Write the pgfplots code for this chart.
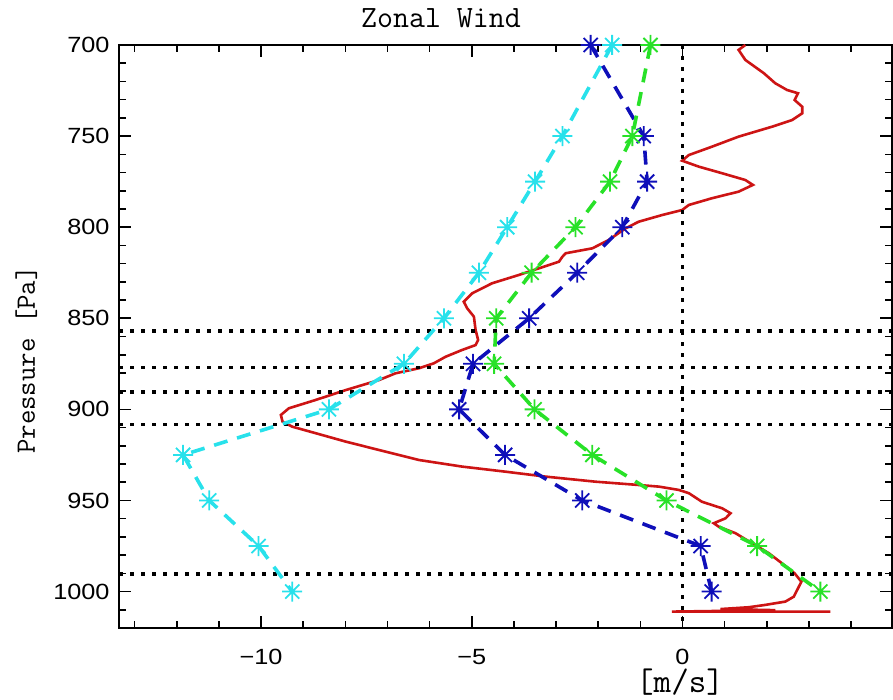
\documentclass[border=0pt]{standalone}
\usepackage{fontspec}
\setsansfont{Liberation Sans}[FakeStretch=1.15]
\usepackage{pgfplots}
\pgfplotsset{compat=1.18}
\definecolor{cCyan}{RGB}{40,225,235}
\definecolor{cBlue}{RGB}{15,15,185}
\definecolor{cGreen}{RGB}{40,225,40}
\definecolor{cRed}{RGB}{205,20,20}
\pgfdeclareplotmark{ast8}{%
  \pgfpathmoveto{\pgfqpoint{-\pgfplotmarksize}{0pt}}\pgfpathlineto{\pgfqpoint{\pgfplotmarksize}{0pt}}%
  \pgfpathmoveto{\pgfqpoint{0pt}{-\pgfplotmarksize}}\pgfpathlineto{\pgfqpoint{0pt}{\pgfplotmarksize}}%
  \pgfpathmoveto{\pgfqpoint{-0.707\pgfplotmarksize}{-0.707\pgfplotmarksize}}\pgfpathlineto{\pgfqpoint{0.707\pgfplotmarksize}{0.707\pgfplotmarksize}}%
  \pgfpathmoveto{\pgfqpoint{-0.707\pgfplotmarksize}{0.707\pgfplotmarksize}}\pgfpathlineto{\pgfqpoint{0.707\pgfplotmarksize}{-0.707\pgfplotmarksize}}%
  \pgfusepathqstroke}
\begin{document}
\begin{tikzpicture}
\begin{axis}[
  scale only axis, width=386.5pt, height=291.5pt,
  anchor=south west, at={(0,0)},
  xmin=-13.37, xmax=4.97, ymin=700, ymax=1020, y dir=reverse,
  xtick={-10,-5,0}, xticklabels={−10,−5,0},
  minor xtick={-13,...,4},
  ytick={700,750,...,1000},
  minor ytick={710,720,...,1010},
  tick align=inside, major tick length=6pt, minor tick length=3.5pt,
  every tick/.style={black, line width=0.8pt},
  axis line style={line width=1.2pt},
  ticklabel style={font=\fontsize{11}{13}\selectfont\sffamily},
  /pgf/number format/assume math mode=true,
  /pgf/number format/set thousands separator={},
  yticklabel style={xshift=-1.2pt},
  xticklabel style={yshift=-7pt},
  clip mode=individual,
  dotline/.style={black, line width=1.8pt, dash pattern=on 1.8pt off 3.7pt},
  series/.style={line width=1.8pt, dash pattern=on 7pt off 5pt, mark=ast8, mark size=5pt, mark options={solid, line width=0.9pt}},
]
\addplot[cRed, line width=1.3pt, no marks] coordinates {
(1.49,700) (1.33,702.7) (1.49,708.2) (1.93,715.5) (2.20,721) (2.48,724.7) (2.74,726.5) (2.66,730.2) (2.84,733.9) (2.84,737.5) (2.60,741.2) (2.13,744.8) (1.33,750.3) (0.70,755.8) (0.15,760.4) (-0.01,763.5) (0.39,766.8) (0.94,770.4) (1.49,774.1) (1.67,776.8) (1.33,780.5) (0.70,784.1) (0.15,787.8) (-0.01,790.6) (-0.48,793.3) (-1.04,797) (-1.35,800.6) (-1.75,807) (-2.14,811.6) (-2.77,814.3) (-2.85,816.2) (-2.93,818.9) (-3.41,822.6) (-3.88,826.2) (-4.52,830.8) (-4.99,836.3) (-5.19,840.9) (-5.11,844.5) (-4.95,849.1) (-4.91,856.4) (-4.85,861.9) (-4.91,864.7) (-5.23,867.4) (-5.62,871.1) (-5.90,874.7) (-6.25,877.4) (-6.81,880.2) (-7.20,883.9) (-7.99,889.4) (-8.70,894.8) (-9.34,899.4) (-9.53,903.1) (-9.49,906.7) (-9.26,909.5) (-8.70,913.1) (-7.99,917.7) (-7.20,922.3) (-6.25,927.8) (-5.23,931.4) (-4.20,934.2) (-3.25,936.9) (-2.06,939.7) (-1.04,941.5) (-0.56,942.4) (-0.09,944.2) (0.15,946) (0.46,950.7) (0.94,954.3) (1.14,957) (1.02,959.8) (0.74,962.5) (0.86,964.4) (1.26,968) (1.65,973.5) (2.05,979) (2.36,984.5) (2.66,990) (2.82,994.6) (2.76,997.3) (2.64,1002.8) (2.44,1005.5) (1.97,1007.3) (1.57,1008.6) (0.9,1009.6) (2.2,1010.2) (-0.25,1011.0) (3.51,1011.0)
};
\addplot[dotline] coordinates {(-13.37,857) (4.97,857)};
\addplot[dotline] coordinates {(-13.37,877) (4.97,877)};
\addplot[dotline] coordinates {(-13.37,890.3) (4.97,890.3)};
\addplot[dotline] coordinates {(-13.37,908.2) (4.97,908.2)};
\addplot[dotline] coordinates {(-13.37,990.3) (4.97,990.3)};
\addplot[dotline] coordinates {(0,700) (0,1020)};
\addplot[series, cCyan] coordinates {
(-1.67,700) (-2.85,750) (-3.50,775) (-4.16,800) (-4.83,825) (-5.66,850) (-6.61,875) (-8.39,900) (-11.85,925) (-11.23,950) (-10.06,975) (-9.26,1000)
};
\addplot[series, cBlue] coordinates {
(-2.18,700) (-0.92,750) (-0.84,775) (-1.43,800) (-2.50,825) (-3.64,850) (-4.97,875) (-5.30,900) (-4.21,925) (-2.38,950) (0.43,975) (0.69,1000)
};
\addplot[series, cGreen] coordinates {
(-0.76,700) (-1.19,750) (-1.72,775) (-2.54,800) (-3.58,825) (-4.42,850) (-4.47,875) (-3.51,900) (-2.14,925) (-0.38,950) (1.77,975) (3.27,1000)
};
\end{axis}
\node[anchor=base, font=\fontsize{15.5}{18}\selectfont\ttfamily] at (161pt,300pt) {Zonal Wind};
\node[anchor=base, font=\fontsize{17}{20}\selectfont\ttfamily] at (280.5pt,-32.5pt) {[m/s]};
\node[anchor=base, rotate=90, font=\fontsize{14}{17}\selectfont\ttfamily] at (-42pt,134pt) {Pressure [Pa]};
\pgfresetboundingbox
\path[use as bounding box] (-59.5pt,-36pt) rectangle (387pt,314pt);
\end{tikzpicture}
\end{document}
